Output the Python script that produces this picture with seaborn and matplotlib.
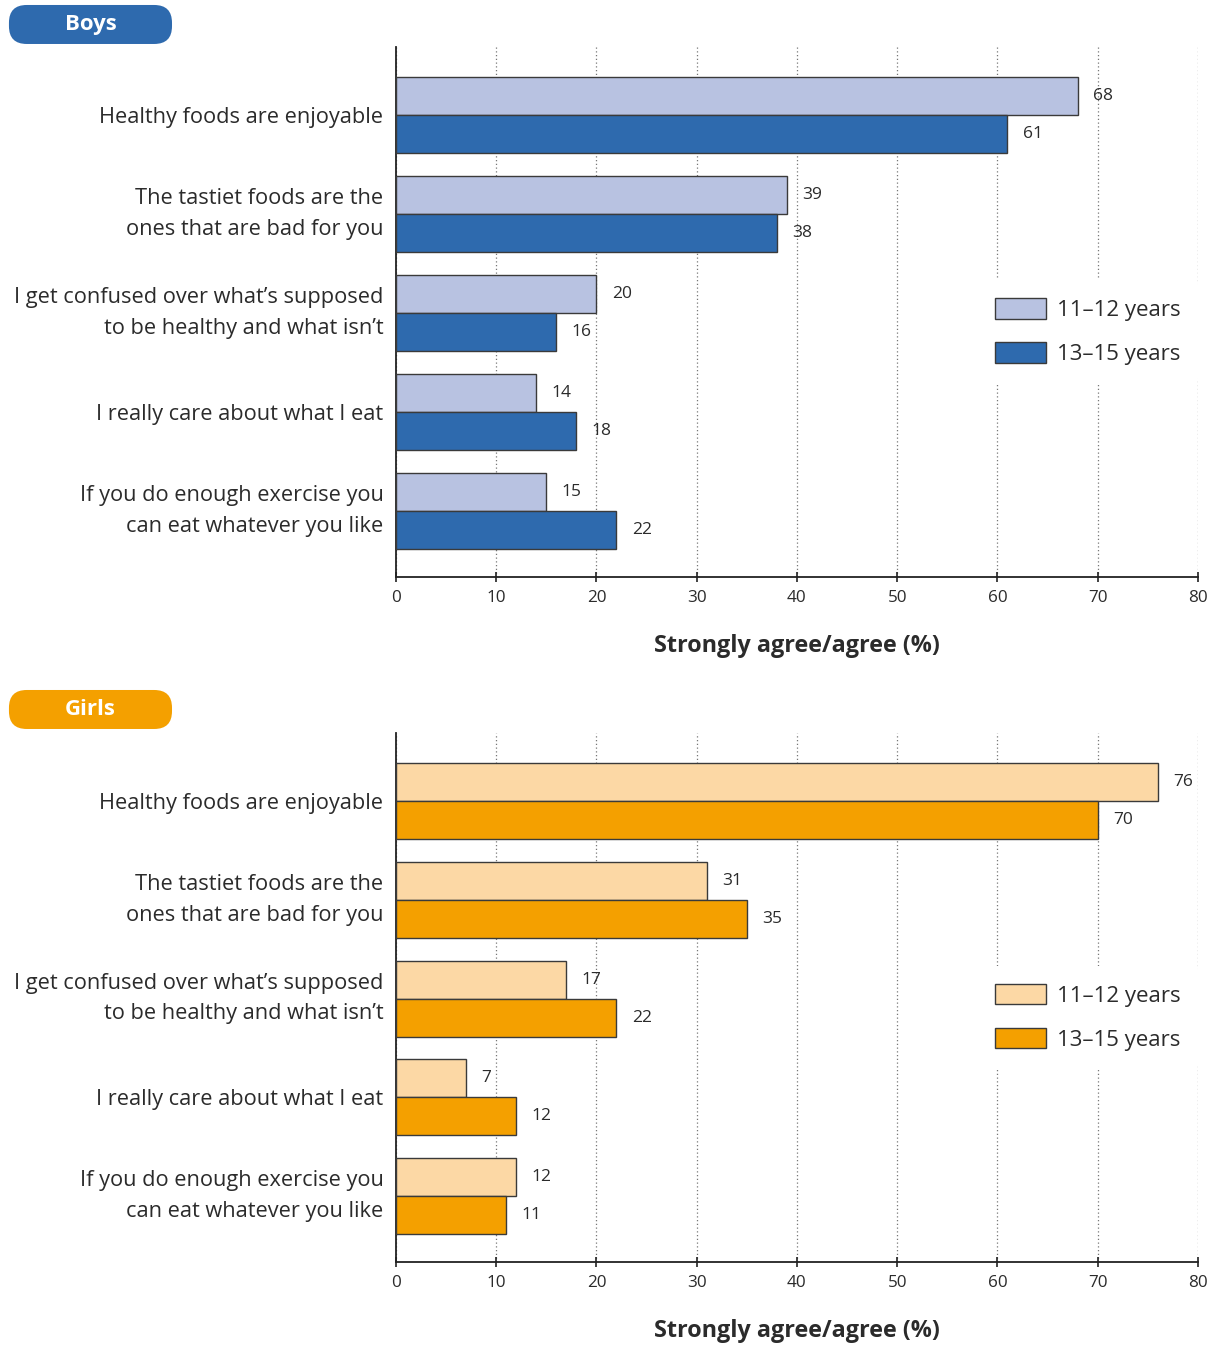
import matplotlib
matplotlib.use("Agg")
import matplotlib.pyplot as plt
from matplotlib.patches import FancyBboxPatch
import seaborn as sns
import pandas as pd

categories = [
    "Healthy foods are enjoyable",
    "The tastiet foods are the\nones that are bad for you",
    "I get confused over what\u2019s supposed\nto be healthy and what isn\u2019t",
    "I really care about what I eat",
    "If you do enough exercise you\ncan eat whatever you like",
]
age_groups = ["11\u201312 years", "13\u201315 years"]

boys_11_12 = [68, 39, 20, 14, 15]
boys_13_15 = [61, 38, 16, 18, 22]
girls_11_12 = [76, 31, 17, 7, 12]
girls_13_15 = [70, 35, 22, 12, 11]

x_ticks = [0, 10, 20, 30, 40, 50, 60, 70, 80]
x_label = "Strongly agree/agree (%)"

boys_colors = ["#B8C2E1", "#2E6AAE"]
girls_colors = ["#FCD8A5", "#F4A000"]

sns.set_theme(style="white")
plt.rcParams["font.family"] = ["Open Sans", "DejaVu Sans"]
TEXT = "#2b2b2b"


def long_frame(young, old):
    rows = []
    for c, v in zip(categories, young):
        rows.append({"category": c, "age": age_groups[0], "value": v})
    for c, v in zip(categories, old):
        rows.append({"category": c, "age": age_groups[1], "value": v})
    return pd.DataFrame(rows)


fig = plt.figure(figsize=(12.26, 13.45), dpi=100)

panels = [
    ("Boys", boys_11_12, boys_13_15, boys_colors, [0.323, 0.571, 0.654, 0.394], 0.9963),
    ("Girls", girls_11_12, girls_13_15, girls_colors, [0.323, 0.0617, 0.654, 0.3933], 0.4870),
]

for title, young, old, colors, rect, badge_top in panels:
    ax = fig.add_axes(rect)
    df = long_frame(young, old)
    sns.barplot(
        data=df, y="category", x="value", hue="age", orient="h",
        order=categories, hue_order=age_groups, palette=colors,
        width=0.77, gap=0, edgecolor="#3a3a3a", linewidth=1.0,
        saturation=1, errorbar=None, ax=ax, zorder=3,
    )
    for cont in ax.containers:
        ax.bar_label(cont, fmt="%d", padding=11, fontsize=12.5, color=TEXT)

    ax.set_xlim(0, 80)
    ax.set_ylim(4.67, -0.69)
    ax.set_xticks(x_ticks)
    ax.set_xticklabels([str(t) for t in x_ticks], fontsize=12.3, color=TEXT)
    ax.tick_params(axis="x", direction="inout", length=7, width=1.2,
                   color="#222222", bottom=True, pad=6)
    ax.tick_params(axis="y", length=0, pad=9, labelsize=15.7, labelcolor=TEXT)
    for t in ax.get_yticklabels():
        t.set_linespacing(1.62)
        t.set_horizontalalignment("right")
        if "\n" in t.get_text():
            t.set_verticalalignment("center")
    ax.set_ylabel("")
    ax.set_xlabel(x_label, fontsize=16.8, fontweight="bold", color=TEXT, labelpad=20)

    ax.grid(axis="x", linestyle=(0, (1, 2)), color="#777777", linewidth=0.9, zorder=0)
    ax.grid(axis="y", visible=False)
    ax.set_axisbelow(True)
    for side in ["top", "right"]:
        ax.spines[side].set_visible(False)
    for side in ["left", "bottom"]:
        ax.spines[side].set_color("#222222")
        ax.spines[side].set_linewidth(1.3)

    leg = ax.legend(
        loc="center left", bbox_to_anchor=(0.7245, 0.463), borderaxespad=0,
        frameon=True, fontsize=16, handlelength=2.3, handleheight=1.05,
        handletextpad=0.5, labelspacing=0.95, borderpad=0.8,
    )
    leg.get_frame().set_facecolor("white")
    leg.get_frame().set_edgecolor("none")
    leg.get_frame().set_alpha(1)
    leg.set_zorder(5)
    for txt in leg.get_texts():
        txt.set_color(TEXT)
    for h in leg.legend_handles:
        h.set_edgecolor("#3a3a3a")
        h.set_linewidth(1.0)

    # title badge
    bw, bh = 0.133, 0.029
    bx = 0.0073
    by = badge_top - bh
    badge = FancyBboxPatch(
        (bx, by), bw, bh, boxstyle="round,pad=0,rounding_size=0.0145",
        transform=fig.transFigure, facecolor=colors[1], edgecolor="none",
        mutation_aspect=1226 / 1345,
    )
    fig.patches.append(badge)
    fig.text(bx + bw / 2, by + bh / 2, title, color="white", fontsize=16,
             fontweight="bold", ha="center", va="center")

fig.savefig("out.png", dpi=100, facecolor="white")
